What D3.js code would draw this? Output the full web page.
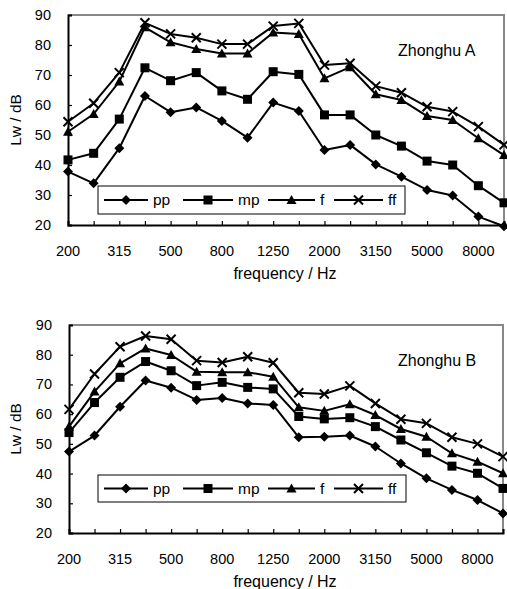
<!DOCTYPE html>
<html>
<head>
<meta charset="utf-8">
<script src="https://cdn.jsdelivr.net/npm/d3@7"></script>
<style>
  body { margin: 0; background: #fff; }
  svg { font-family: "Liberation Sans", Arial, sans-serif; }
</style>
</head>
<body>
<div id="chart"></div>
<script>
// 1/3 octave bands
var bands = [200, 250, 315, 400, 500, 630, 800, 1000, 1250, 1600, 2000, 2500, 3150, 4000, 5000, 6300, 8000, 10000];
var xTickLabels = [200, 315, 500, 800, 1250, 2000, 3150, 5000, 8000];
var yTicks = [20, 30, 40, 50, 60, 70, 80, 90];
var seriesNames = ["pp", "mp", "f", "ff"];

// Zhonghu A
var aPP = [37.8, 33.9, 45.6, 63.0, 57.6, 59.2, 54.7, 49.1, 60.8, 58.0, 45.0, 46.7, 40.2, 36.1, 31.7, 29.8, 22.8, 19.6];
var aMP = [41.7, 43.9, 55.3, 72.4, 68.1, 70.8, 64.7, 61.9, 71.1, 70.2, 56.7, 56.7, 50.0, 46.3, 41.3, 40.0, 33.1, 27.4];
var aF  = [51.1, 57.0, 67.8, 85.9, 80.9, 78.7, 77.2, 77.2, 84.2, 83.7, 68.9, 72.6, 63.6, 61.7, 56.3, 55.0, 48.9, 43.3];
var aFF = [54.4, 60.6, 70.8, 87.4, 83.7, 82.4, 80.3, 80.3, 86.3, 87.2, 73.3, 73.9, 66.3, 64.1, 59.4, 57.8, 52.8, 46.7];

// Zhonghu B
var bPP = [47.4, 52.8, 62.5, 71.3, 68.9, 64.8, 65.4, 63.6, 63.1, 52.2, 52.4, 52.8, 49.1, 43.4, 38.4, 34.5, 31.1, 26.6];
var bMP = [53.8, 63.9, 72.4, 77.7, 74.6, 69.6, 70.7, 69.0, 68.5, 59.2, 58.4, 58.8, 55.8, 51.3, 47.0, 42.5, 40.1, 35.0];
var bF  = [55.8, 67.6, 77.1, 82.1, 79.9, 74.3, 74.1, 74.1, 72.6, 62.3, 61.1, 63.3, 59.7, 55.0, 52.4, 46.8, 44.0, 40.1];
var bFF = [61.6, 73.5, 82.7, 86.3, 85.2, 78.0, 77.4, 79.3, 77.3, 67.2, 66.8, 69.5, 63.6, 58.3, 56.9, 52.2, 50.0, 45.7];

var svg = d3.select("#chart").append("svg")
  .attr("width", 507)
  .attr("height", 589);

// marker shapes
var markerPath = {
  pp: "M0,-5L5,0L0,5L-5,0Z",
  mp: "M-4.5,-4.5L4.5,-4.5L4.5,4.5L-4.5,4.5Z",
  f: "M0,-5L5,4L-5,4Z",
  ff: "M-4.5,-4.5L4.5,4.5M4.5,-4.5L-4.5,4.5"
};

function drawMarker(g, name, x, y) {
  var p = g.append("path")
    .attr("transform", `translate(${x},${y})`)
    .attr("d", markerPath[name]);
  if (name === "ff") {
    p.attr("fill", "none").attr("stroke", "#000").attr("stroke-width", 2);
  } else {
    p.attr("fill", "#000");
  }
}

function drawPanel(box, series, title, legendBox) {
  var g = svg.append("g");

  var x = d3.scalePoint()
    .domain(bands)
    .range([box.left, box.right]);
  var y = d3.scaleLinear()
    .domain([20, 90])
    .range([box.bottom, box.top]);

  // top + right frame (grey)
  g.append("path")
    .attr("d", `M${box.left},${box.top}H${box.right}V${box.bottom}`)
    .attr("fill", "none")
    .attr("stroke", "#888")
    .attr("stroke-width", 2);

  // y axis
  var yAxis = d3.axisRight(y).tickValues(yTicks).tickSize(4).tickFormat("");
  var ya = g.append("g")
    .attr("transform", `translate(${box.left},0)`)
    .call(yAxis);
  ya.select(".domain").attr("stroke", "#000").attr("stroke-width", 2);
  ya.selectAll(".tick line").attr("stroke", "#000").attr("stroke-width", 1.2);

  g.selectAll(".ylab")
    .data(yTicks)
    .enter()
    .append("text")
    .attr("x", box.left - 17)
    .attr("y", d => y(d) + 5)
    .attr("text-anchor", "end")
    .attr("font-size", 14.5)
    .text(d => d);

  // x axis, ticks pointing inward
  var xAxis = d3.axisTop(x).tickSize(4).tickFormat("");
  var xa = g.append("g")
    .attr("transform", `translate(0,${box.bottom})`)
    .call(xAxis);
  xa.select(".domain").attr("stroke", "#000").attr("stroke-width", 2);
  xa.selectAll(".tick line").attr("stroke", "#000").attr("stroke-width", 1.2);

  g.selectAll(".xlab")
    .data(xTickLabels)
    .enter()
    .append("text")
    .attr("x", d => x(d))
    .attr("y", box.bottom + 31)
    .attr("text-anchor", "middle")
    .attr("font-size", 14.5)
    .text(d => d);

  g.append("text")
    .attr("x", (box.left + box.right) / 2 - 1)
    .attr("y", box.bottom + 54)
    .attr("text-anchor", "middle")
    .attr("font-size", 16)
    .text("frequency / Hz");

  g.append("text")
    .attr("transform", `translate(21,${(box.top + box.bottom) / 2}) rotate(-90)`)
    .attr("text-anchor", "middle")
    .attr("font-size", 15.5)
    .text("Lw / dB");

  g.append("text")
    .attr("x", 398)
    .attr("y", box.top + 41)
    .attr("font-size", 16)
    .text(title);

  // legend
  g.append("rect")
    .attr("x", legendBox.x)
    .attr("y", legendBox.y)
    .attr("width", legendBox.w)
    .attr("height", legendBox.h)
    .attr("fill", "#fff")
    .attr("stroke", "#000")
    .attr("stroke-width", 1);

  var ly = legendBox.y + legendBox.h / 2;
  var itemX = [104, 183, 268, 334];
  var itemW = [44, 50, 47, 49];
  seriesNames.forEach(function(name, i) {
    var x0 = itemX[i];
    g.append("line")
      .attr("x1", x0).attr("x2", x0 + itemW[i])
      .attr("y1", ly).attr("y2", ly)
      .attr("stroke", "#000").attr("stroke-width", 2);
    drawMarker(g, name, x0 + itemW[i] / 2, ly);
    g.append("text")
      .attr("x", x0 + itemW[i] + 5)
      .attr("y", ly + 5)
      .attr("font-size", 15.5)
      .text(name);
  });

  // series lines and markers
  var line = d3.line()
    .x((d, i) => x(bands[i]))
    .y(d => y(d));

  seriesNames.forEach(function(name, si) {
    var vals = series[si];
    g.append("path")
      .attr("d", line(vals))
      .attr("fill", "none")
      .attr("stroke", "#000")
      .attr("stroke-width", 2)
      .attr("stroke-linejoin", "round");
    vals.forEach(function(v, i) {
      drawMarker(g, name, x(bands[i]), y(v));
    });
  });
}

drawPanel({left: 68, right: 504, top: 15, bottom: 225},
  [aPP, aMP, aF, aFF], "Zhonghu A",
  {x: 98, y: 186, w: 307, h: 28});

drawPanel({left: 69, right: 503, top: 325, bottom: 533},
  [bPP, bMP, bF, bFF], "Zhonghu B",
  {x: 98, y: 475, w: 308, h: 27});
</script>
</body>
</html>
